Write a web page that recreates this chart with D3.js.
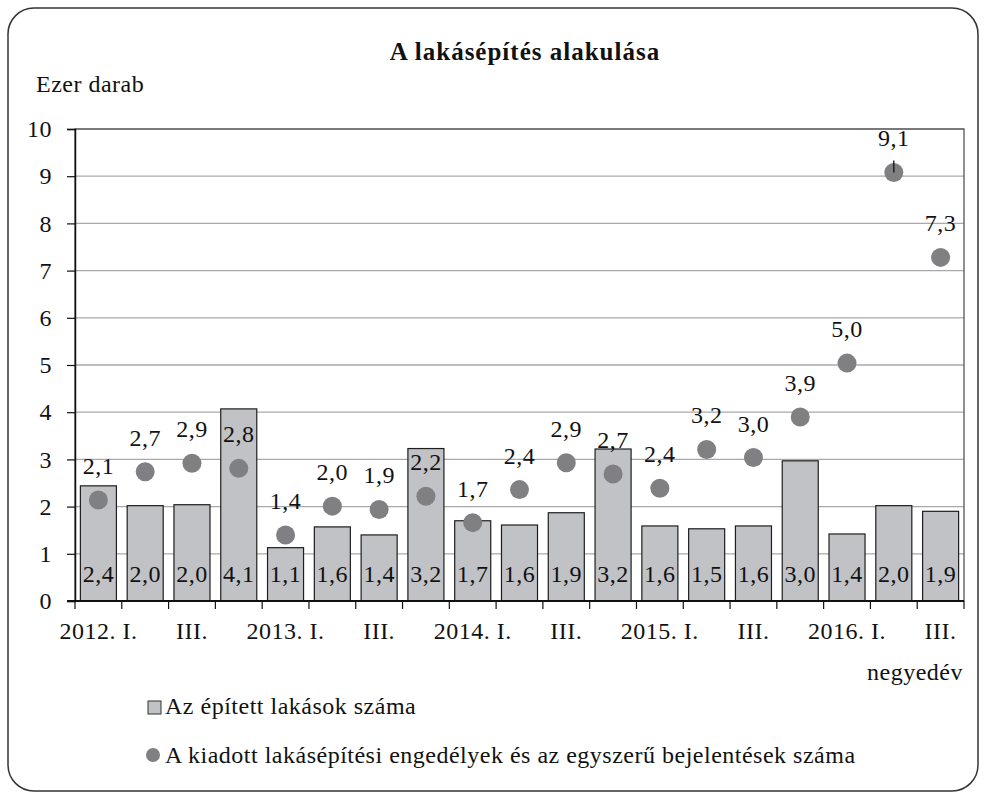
<!DOCTYPE html>
<html><head><meta charset="utf-8">
<script src="https://cdn.jsdelivr.net/npm/d3@7"></script>
<style>body{margin:0;background:#fff} svg text{font-family:"Liberation Serif","DejaVu Serif",serif;}</style>
</head><body><svg id="c" width="986" height="799"></svg>
<script>
const quarters = ["2012. I.","2012. II.","2012. III.","2012. IV.",
  "2013. I.","2013. II.","2013. III.","2013. IV.",
  "2014. I.","2014. II.","2014. III.","2014. IV.",
  "2015. I.","2015. II.","2015. III.","2015. IV.",
  "2016. I.","2016. II.","2016. III."];
const tickLabels = ["2012. I.","III.","2013. I.","III.","2014. I.","III.","2015. I.","III.","2016. I.","III."];
const built = [2.44,2.02,2.04,4.07,1.13,1.57,1.40,3.23,1.70,1.61,1.87,3.22,1.59,1.53,1.59,2.97,1.42,2.02,1.90];
const permits = [2.14,2.74,2.92,2.81,1.40,2.01,1.94,2.22,1.66,2.36,2.93,2.69,2.39,3.21,3.04,3.90,5.04,9.08,7.28];
const leaderLabels = ["2016. II."];
const yTicks = [0,1,2,3,4,5,6,7,8,9,10];
const title = "A lakásépítés alakulása";
const yUnit = "Ezer darab";
const xUnit = "negyedév";
const seriesNames = ["Az épített lakások száma","A kiadott lakásépítési engedélyek és az egyszerű bejelentések száma"];

const FONT = '"Liberation Serif", "DejaVu Serif", serif';
const FS = 24, LS = 0.5;
const barFill = "#c1c2c5", dotFill = "#808083";
const fmt = v => d3.format(".1f")(v).replace(".", ",");
const txt = sel => sel.style("font-family", FONT).style("font-size", FS + "px")
  .style("letter-spacing", LS + "px").attr("fill", "#111");

const svg = d3.select("#c");
svg.append("rect").attr("x",8).attr("y",8).attr("width",970).attr("height",783)
  .attr("rx",26).attr("fill","#fff").attr("stroke","#333").attr("stroke-width",1.5);

const L = 75, R = 964, T = 129, B = 601;
const x = d3.scaleBand().domain(quarters).range([L, R]).padding(0);
const y = d3.scaleLinear().domain([0, 10]).range([B, T]);
const cx = q => x(q) + x.bandwidth() / 2;

// gridlines
svg.append("g").selectAll("line").data(yTicks.slice(1)).join("line")
  .attr("x1", L).attr("x2", R).attr("y1", d => y(d)).attr("y2", d => y(d))
  .attr("stroke", "#a9a9a9").attr("stroke-width", 1.3);
// plot border
svg.append("rect").attr("x", L).attr("y", T).attr("width", R - L).attr("height", B - T)
  .attr("fill", "none").attr("stroke", "#555").attr("stroke-width", 1.3);

// bars
const bw = x.bandwidth() * 0.77;
svg.append("g").selectAll("rect").data(built).join("rect")
  .attr("x", (d, i) => x(quarters[i]) + (x.bandwidth() - bw) / 2)
  .attr("y", d => y(d)).attr("width", bw).attr("height", d => y(0) - y(d))
  .attr("fill", barFill).attr("stroke", "#1e1e1e").attr("stroke-width", 1.2);

// y axis
const ya = svg.append("g").attr("transform", `translate(${L},0)`)
  .call(d3.axisLeft(y).tickValues(yTicks).tickSize(8).tickPadding(15).tickFormat(d3.format("d")));
ya.select(".domain").attr("stroke", "#111").attr("stroke-width", 1.5);
ya.selectAll(".tick line").attr("stroke", "#111").attr("stroke-width", 1.2);
ya.selectAll("text").call(txt);

// x axis (labels)
const xa = svg.append("g").attr("transform", `translate(0,${B})`)
  .call(d3.axisBottom(x).tickValues(quarters.filter((q, i) => i % 2 === 0))
    .tickSize(0).tickPadding(21).tickFormat(d => tickLabels[quarters.indexOf(d) / 2]));
xa.select(".domain").remove();
xa.selectAll("text").call(txt);
// x baseline and boundary ticks
const bounds = quarters.map(q => x(q)).concat([x.range()[1]]);
svg.append("line").attr("x1", L - 8).attr("x2", R).attr("y1", B).attr("y2", B)
  .attr("stroke", "#111").attr("stroke-width", 2);
svg.append("g").selectAll("line").data(bounds).join("line")
  .attr("x1", d => d).attr("x2", d => d).attr("y1", B).attr("y2", B + 8)
  .attr("stroke", "#111").attr("stroke-width", 1.2);

// bar labels
svg.append("g").selectAll("text").data(built).join("text")
  .attr("x", (d, i) => cx(quarters[i])).attr("y", y(0) - 19)
  .attr("text-anchor", "middle").call(txt).text(d => fmt(d));

// dots
svg.append("g").selectAll("circle").data(permits).join("circle")
  .attr("cx", (d, i) => cx(quarters[i])).attr("cy", d => y(d))
  .attr("r", 9.5).attr("fill", dotFill);
// leader lines
svg.append("g").selectAll("line").data(leaderLabels).join("line")
  .attr("x1", q => cx(q)).attr("x2", q => cx(q))
  .attr("y1", q => y(permits[quarters.indexOf(q)]) - 12)
  .attr("y2", q => y(permits[quarters.indexOf(q)]))
  .attr("stroke", "#111").attr("stroke-width", 1.3);
svg.append("g").selectAll("text").data(permits).join("text")
  .attr("x", (d, i) => cx(quarters[i])).attr("y", d => y(d) - 26)
  .attr("text-anchor", "middle").call(txt).text(d => fmt(d));

// titles
svg.append("text").attr("x", 525).attr("y", 60).attr("text-anchor", "middle")
  .style("font-family", FONT).style("font-size", "25px").style("font-weight", "bold")
  .style("letter-spacing", "1px").attr("fill", "#111").text(title);
svg.append("text").attr("x", 36).attr("y", 92).call(txt).text(yUnit);
svg.append("text").attr("x", 963).attr("y", 680).attr("text-anchor", "end").call(txt).text(xUnit);

// legend
const lg = svg.append("g");
lg.append("rect").attr("x", 148).attr("y", 701).attr("width", 13).attr("height", 13)
  .attr("fill", barFill).attr("stroke", "#333").attr("stroke-width", 1);
lg.append("text").attr("x", 165).attr("y", 714).call(txt).text(seriesNames[0]);
lg.append("circle").attr("cx", 153).attr("cy", 755).attr("r", 7).attr("fill", dotFill);
lg.append("text").attr("x", 165).attr("y", 763).call(txt).text(seriesNames[1]);
</script></body></html>
